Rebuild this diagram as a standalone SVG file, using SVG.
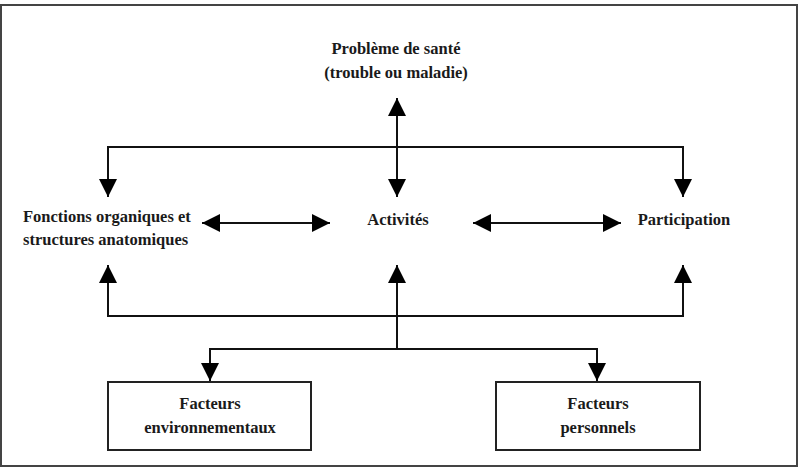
<svg xmlns="http://www.w3.org/2000/svg" width="806" height="472" viewBox="0 0 806 472">
<style>
  .t { font-family: "Liberation Serif", "DejaVu Serif", serif; font-weight: bold; font-size: 16.5px; fill: #1a1a1a; }
  .c { text-anchor: middle; }
  .ln { fill: none; stroke: #111; stroke-width: 2; }
  .box { fill: #fff; stroke: #222; stroke-width: 2; }
</style>
<defs>
  <marker id="ah" viewBox="0 0 18 18" refX="18" refY="9" markerWidth="18" markerHeight="18" markerUnits="userSpaceOnUse" orient="auto-start-reverse">
    <path d="M0,0 L18,9 L0,18 z" fill="#000"/>
  </marker>
</defs>
<rect x="1" y="5" width="796" height="461" fill="#fff" stroke="#444" stroke-width="2"/>
<g id="connectors">
  <path class="ln" d="M108,197 V147 H683 V197" marker-start="url(#ah)" marker-end="url(#ah)"/>
  <path class="ln" d="M397,98 V197" marker-start="url(#ah)" marker-end="url(#ah)"/>
  <path class="ln" d="M108,265 V316 H683 V265" marker-start="url(#ah)" marker-end="url(#ah)"/>
  <path class="ln" d="M397,349 V265" marker-end="url(#ah)"/>
  <path class="ln" d="M210,381 V349 H597 V381" marker-start="url(#ah)" marker-end="url(#ah)"/>
  <path class="ln" d="M202,223 H330" marker-start="url(#ah)" marker-end="url(#ah)"/>
  <path class="ln" d="M473,223 H621" marker-start="url(#ah)" marker-end="url(#ah)"/>
</g>
<g id="probleme">
  <text class="t c" x="396" y="54">Problème de santé</text>
  <text class="t c" x="396" y="78">(trouble ou maladie)</text>
</g>
<g id="fonctions">
  <text class="t" x="23" y="222">Fonctions organiques et</text>
  <text class="t" x="23" y="245">structures anatomiques</text>
</g>
<g id="activites">
  <text class="t c" x="398" y="225">Activités</text>
</g>
<g id="participation">
  <text class="t c" x="684" y="225">Participation</text>
</g>
<g id="env">
  <rect class="box" x="108" y="382" width="203" height="68"/>
  <text class="t c" x="210" y="409">Facteurs</text>
  <text class="t c" x="210" y="433">environnementaux</text>
</g>
<g id="pers">
  <rect class="box" x="496" y="382" width="204" height="68"/>
  <text class="t c" x="598" y="409">Facteurs</text>
  <text class="t c" x="598" y="433">personnels</text>
</g>
</svg>
